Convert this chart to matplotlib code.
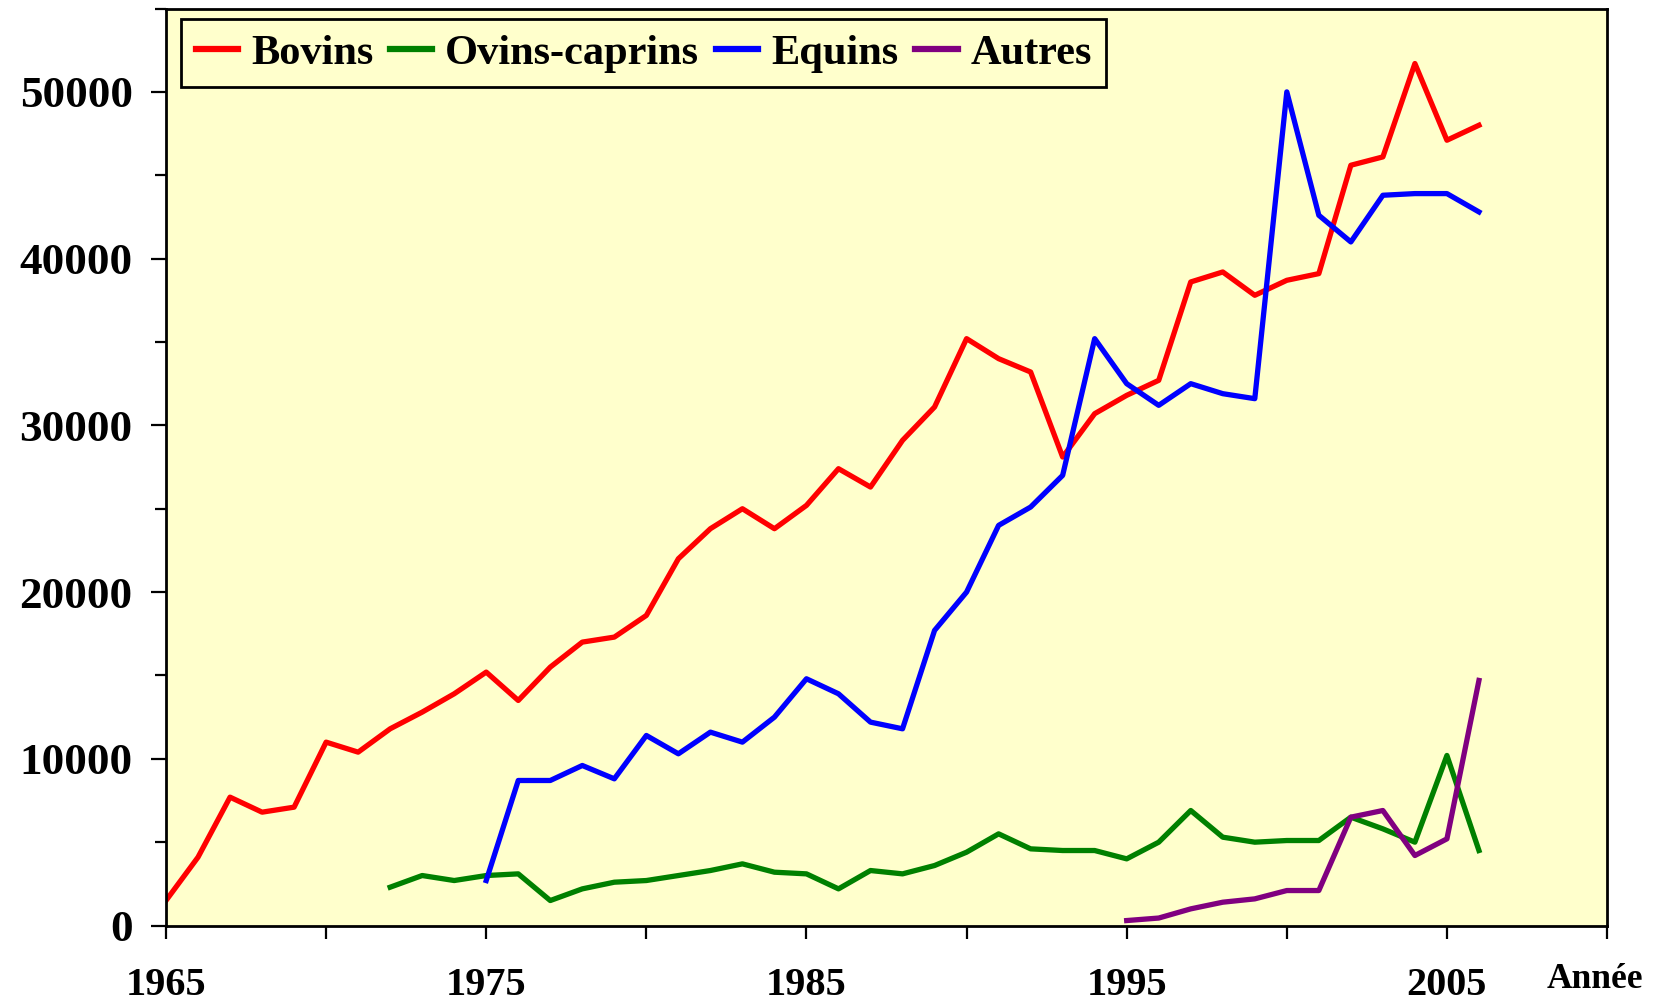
import matplotlib
matplotlib.use("Agg")
import matplotlib.pyplot as plt
from matplotlib.ticker import MultipleLocator

plt.rcParams['font.family'] = ['Liberation Serif', 'DejaVu Serif']
plt.rcParams['font.weight'] = 'bold'

# données
years_bovins = list(range(1965, 2007))
bovins = [1500, 4100, 7700, 6800, 7100, 11000, 10400, 11800, 12800, 13900,
          15200, 13500, 15500, 17000, 17300, 18600, 22000, 23800, 25000, 23800,
          25200, 27400, 26300, 29100, 31100, 35200, 34000, 33200, 28100, 30700,
          31800, 32700, 38600, 39200, 37800, 38700, 39100, 45600, 46100, 51700,
          47100, 48000]

years_ovins = list(range(1972, 2007))
ovins = [2300, 3000, 2700, 3000, 3100, 1500, 2200, 2600, 2700, 3000,
         3300, 3700, 3200, 3100, 2200, 3300, 3100, 3600, 4400, 5500,
         4600, 4500, 4500, 4000, 5000, 6900, 5300, 5000, 5100, 5100,
         6500, 5800, 5000, 10200, 4500]

years_equins = list(range(1975, 2007))
equins = [2700, 8700, 8700, 9600, 8800, 11400, 10300, 11600, 11000, 12500,
          14800, 13900, 12200, 11800, 17700, 20000, 24000, 25100, 27000, 35200,
          32500, 31200, 32500, 31900, 31600, 50000, 42600, 41000, 43800, 43900,
          43900, 42800]

years_autres = list(range(1995, 2007))
autres = [300, 450, 1000, 1400, 1600, 2100, 2100, 6500, 6900, 4200, 5200, 14700]

fig = plt.figure(figsize=(16.7, 10.02), dpi=100)
ax = fig.add_axes([0.0994, 0.0763, 0.8629, 0.9152])
ax.set_facecolor('#FFFFCC')

lw = 3.8
ax.plot(years_bovins, bovins, color='#FF0000', lw=lw, label='Bovins')
ax.plot(years_ovins, ovins, color='#008000', lw=lw, label='Ovins-caprins')
ax.plot(years_equins, equins, color='#0000FF', lw=lw, label='Equins')
ax.plot(years_autres, autres, color='#800080', lw=lw, label='Autres')

ax.set_xlim(1965, 2010)
ax.set_ylim(0, 55000)

ax.xaxis.set_major_locator(MultipleLocator(10))
ax.xaxis.set_minor_locator(MultipleLocator(5))
ax.yaxis.set_major_locator(MultipleLocator(10000))
ax.yaxis.set_minor_locator(MultipleLocator(5000))
ax.set_xticks([1965, 1975, 1985, 1995, 2005])

ax.tick_params(axis='y', which='major', length=11, width=1.6, labelsize=32.5, pad=13)
ax.tick_params(axis='y', which='minor', length=8, width=1.6)
ax.tick_params(axis='x', which='major', length=9, width=1.6, labelsize=29, pad=21)
ax.tick_params(axis='x', which='minor', length=9, width=1.6)
for lab in ax.get_xticklabels() + ax.get_yticklabels():
    lab.set_fontweight('bold')

for sp in ax.spines.values():
    sp.set_linewidth(2)
    sp.set_color('black')

leg = ax.legend(loc='upper left', bbox_to_anchor=(0.0104, 0.9885), borderaxespad=0,
                ncol=4, fontsize=30.5, handlelength=1.0, handletextpad=0.3,
                columnspacing=0.4, borderpad=0.35, fancybox=False,
                facecolor='#FFFFCC', edgecolor='black', framealpha=1)
leg.get_frame().set_linewidth(2)
for t in leg.get_texts():
    t.set_fontweight('bold')
for ln in leg.get_lines():
    ln.set_linewidth(4.5)

fig.text(0.955, 1 - 980 / 1002, 'Année', fontsize=25.5, fontweight='bold',
         ha='center', va='center')

fig.savefig('out.png', dpi=100)
